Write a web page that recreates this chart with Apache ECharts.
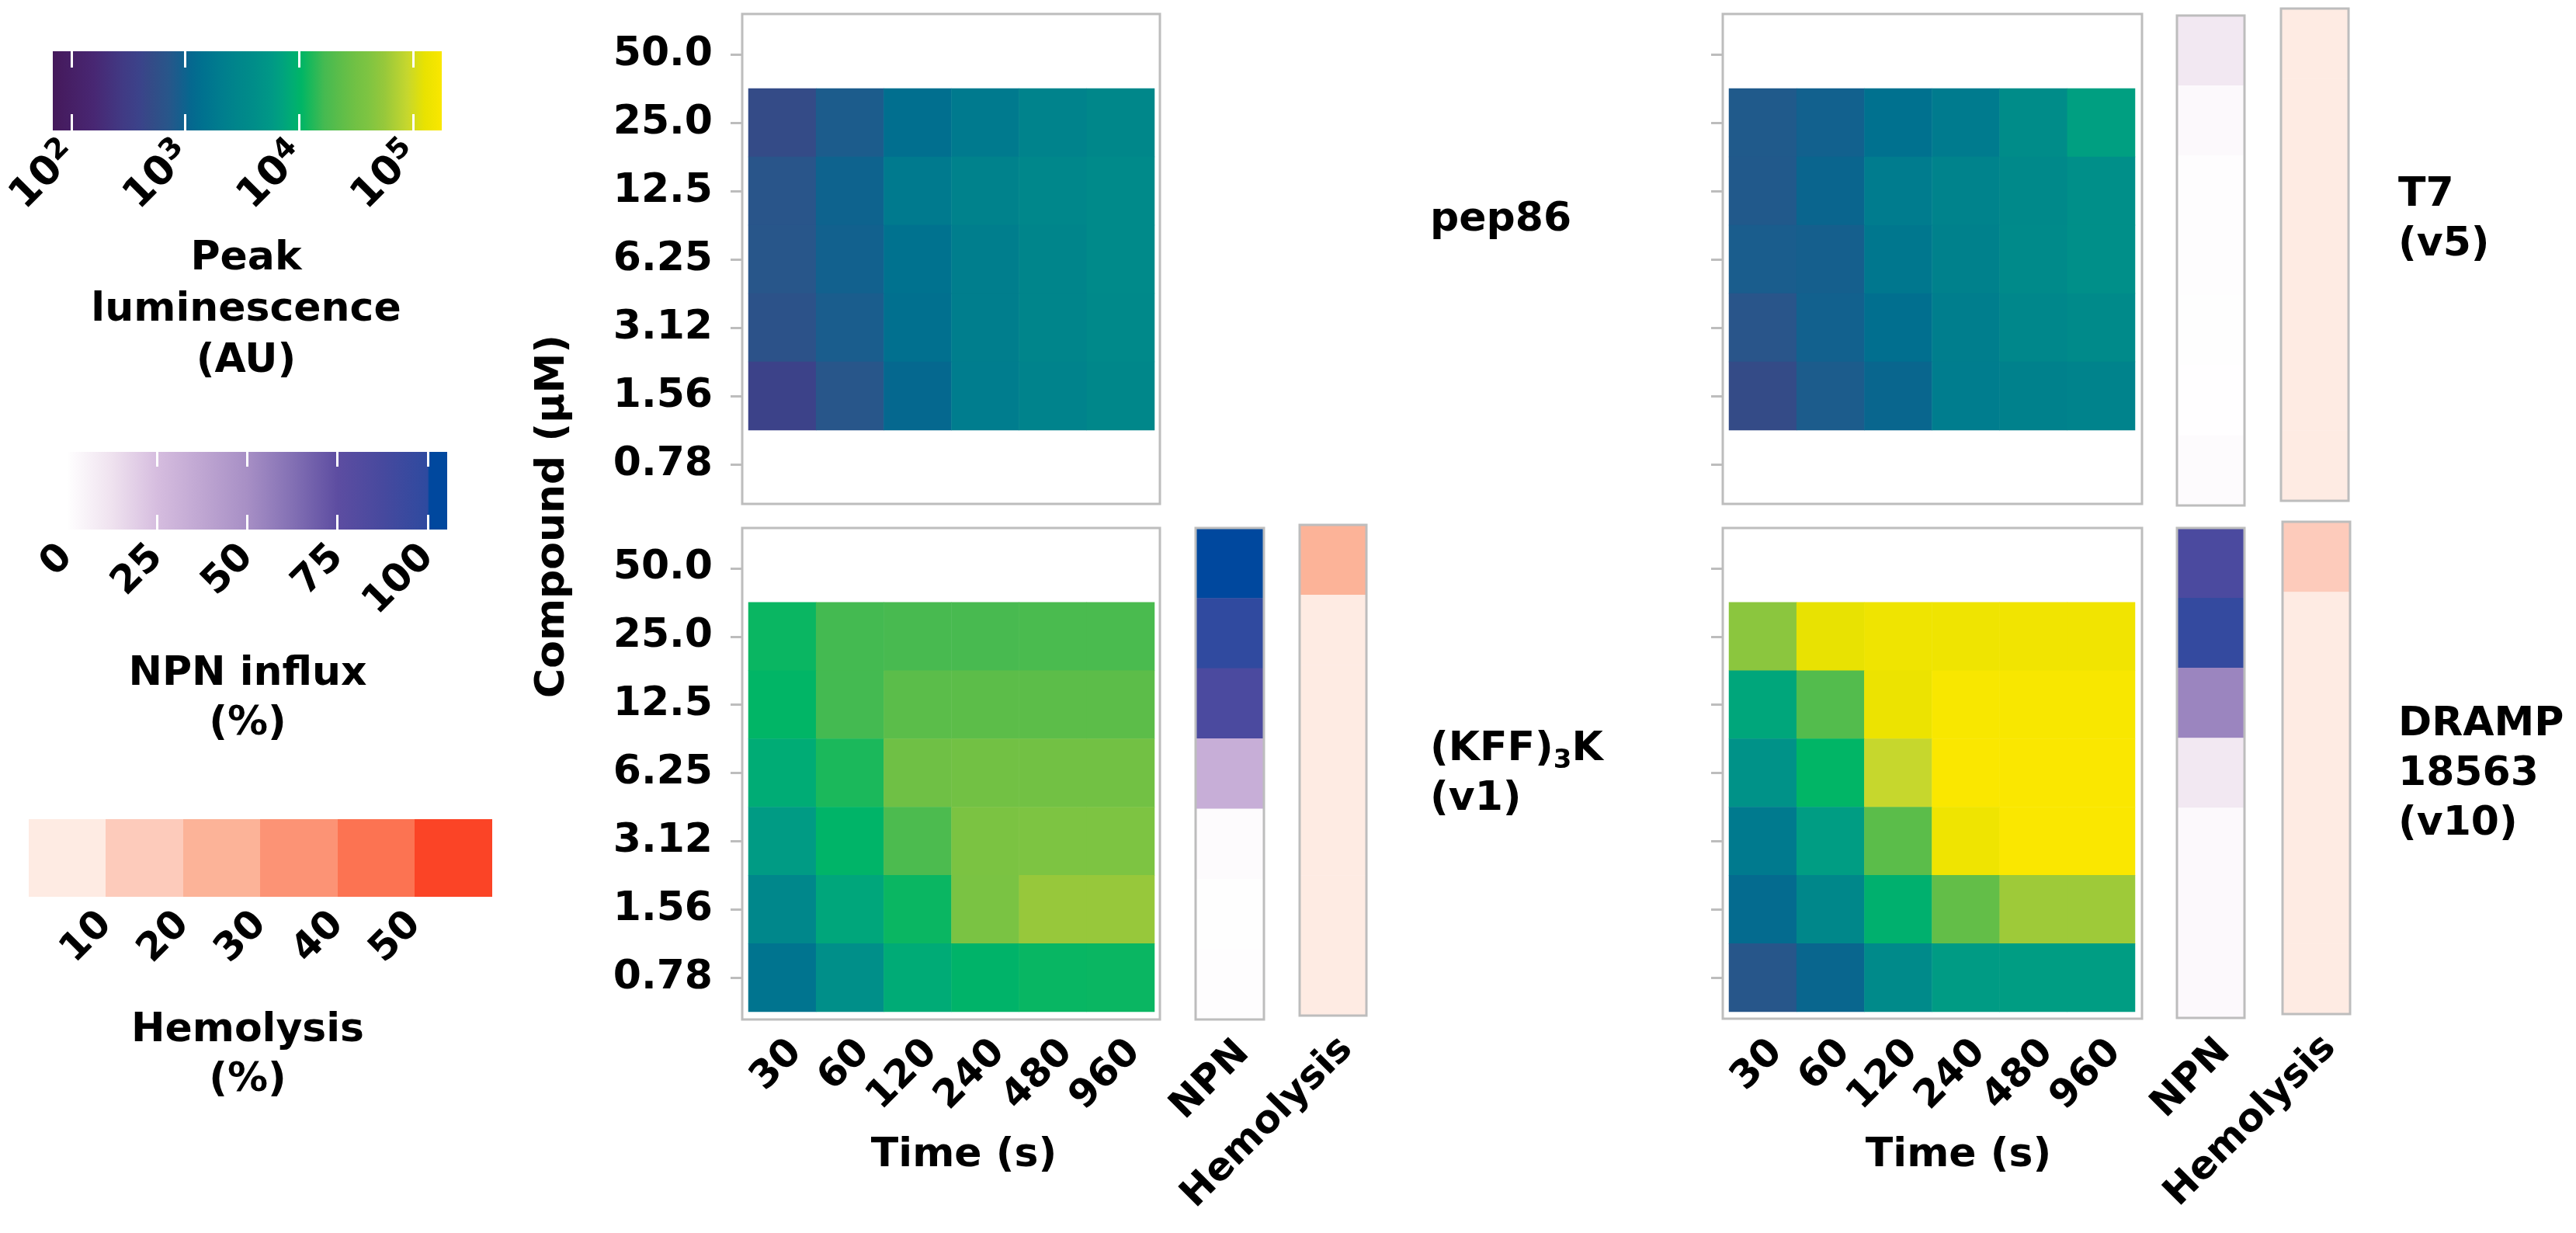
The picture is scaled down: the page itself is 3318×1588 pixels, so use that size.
<!DOCTYPE html>
<html><head><meta charset="utf-8">
<script src="https://cdn.jsdelivr.net/npm/echarts@6/dist/echarts.min.js"></script>
<style>html,body{margin:0;padding:0;background:#fff}#c{width:3318px;height:1588px}</style>
</head><body><div id="c"></div>
<script>
// ---------------- DATA ----------------
const times = ['30', '60', '120', '240', '480', '960'];
const concs = ['50.0', '25.0', '12.5', '6.25', '3.12', '1.56', '0.78'];

// Peak luminescence (AU); rows follow concs, columns follow times (null = not measured)
const lumPep86 = [
  null,
  [500, 830, 1320, 1860, 2630, 3160],
  [690, 1000, 1860, 2510, 3020, 3390],
  [710, 950, 1480, 2140, 2820, 3390],
  [630, 850, 1350, 2140, 2820, 3310],
  [380, 710, 1120, 2090, 2630, 3160],
  null
];
const lumT7 = [
  null,
  [790, 950, 1410, 1910, 3800, 6610],
  [780, 1050, 2000, 2630, 3310, 4170],
  [850, 910, 1700, 2400, 3470, 4170],
  [690, 950, 1320, 2140, 3020, 3550],
  [500, 830, 1070, 2090, 2400, 2630],
  null
];
const lumKFF = [
  null,
  [11200, 16600, 17400, 17400, 17800, 17800],
  [10500, 16600, 22400, 22900, 22900, 22900],
  [8510, 12600, 30200, 31600, 31600, 31600],
  [6030, 10200, 18200, 38000, 39800, 39800],
  [3020, 7590, 11200, 37200, 56200, 56200],
  [1580, 4170, 8320, 10000, 11000, 11200]
];
const lumDRAMP = [
  null,
  [47900, 126000, 145000, 145000, 148000, 148000],
  [7590, 20000, 138000, 174000, 174000, 174000],
  [4570, 10500, 89100, 178000, 178000, 178000],
  [1860, 6310, 22400, 145000, 178000, 178000],
  [1200, 3160, 9330, 25100, 60300, 60300],
  [720, 1070, 3390, 6030, 6310, 6310]
];

// NPN influx (%) per concentration (rows follow concs)
const npnT7 = [10, 2.5, 1.2, 1.2, 0.5, 0.3, 2];
const npnKFF = [103, 99, 85, 33, 2, 0.5, 1];
const npnDRAMP = [85, 97, 54, 10, 2.5, 2.5, 2.5];

// Hemolysis (%) per concentration
const hemoT7 = [3, 2, 2, 1, 1, 1, 1];
const hemoKFF = [25, 5, 3, 2, 1, 1, 1];
const hemoDRAMP = [14, 4, 2, 1, 1, 1, 1];

// Colour-bar tick labels
const lumTickExps = [2, 3, 4, 5];
const npnTicks = [0, 25, 50, 75, 100];
const hemoTicks = [10, 20, 30, 40, 50];

// ---------------- STYLE ----------------
const F = '"DejaVu Sans", Verdana, sans-serif';
const LUM_MIN = 1.836, LUM_MAX = 5.252;
const NPN_MIN = -3, NPN_MAX = 105.4;
const lumStops = [[1.836,'#45195b'],[2.2,'#482773'],[2.45,'#413a84'],[2.6,'#3b438a'],[2.7,'#344b87'],[2.85,'#28568a'],[2.95,'#175e8d'],[3.05,'#05688f'],[3.15,'#00718f'],[3.3,'#007c8e'],[3.45,'#00858b'],[3.6,'#008d89'],[3.75,'#009886'],[3.85,'#00a27f'],[3.95,'#00ae72'],[4.02,'#00b566'],[4.1,'#1bb85b'],[4.22,'#45ba51'],[4.35,'#5bbd4a'],[4.5,'#72c144'],[4.6,'#7dc442'],[4.75,'#97c83b'],[4.95,'#c6d72e'],[5.1,'#e8e201'],[5.252,'#fae700']];
const npnStops = [[-3,'#ffffff'],[0,'#ffffff'],[12.5,'#efe2ef'],[25,'#d6bddf'],[37.5,'#bfa6d2'],[50,'#a78fc5'],[62.5,'#8370b4'],[75,'#5d4da1'],[87.5,'#47499e'],[100,'#2e4a9f'],[100.4,'#00489e'],[105.4,'#00489e']];
const hemoPieces = [
  {min: 0, max: 10, color: '#feebe3'},
  {min: 10, max: 20, color: '#fdcbbb'},
  {min: 20, max: 30, color: '#fcb398'},
  {min: 30, max: 40, color: '#fc9375'},
  {min: 40, max: 50, color: '#fc7352'},
  {min: 50, max: 60, color: '#fb4426'}
];

function hex2rgb(h){h=h.replace('#','');return [parseInt(h.substr(0,2),16),parseInt(h.substr(2,2),16),parseInt(h.substr(4,2),16)];}
function rgb2hex(c){return '#'+c.map(v=>Math.round(v).toString(16).padStart(2,'0')).join('');}
function interp(stops, v){
  if (v <= stops[0][0]) return stops[0][1];
  for (let i = 1; i < stops.length; i++) {
    if (v <= stops[i][0]) {
      const a = stops[i-1], b = stops[i];
      const t = (v - a[0]) / (b[0] - a[0]);
      const ca = hex2rgb(a[1]), cb = hex2rgb(b[1]);
      return rgb2hex(ca.map((x, k) => x + (cb[k] - x) * t));
    }
  }
  return stops[stops.length-1][1];
}
function sampleColors(stops, lo, hi, n){const out=[];for(let i=0;i<n;i++)out.push(interp(stops, lo+(hi-lo)*i/(n-1)));return out;}
function gradient(stops, lo, hi){
  return new echarts.graphic.LinearGradient(0,0,1,0, stops.map(s=>({offset:(s[0]-lo)/(hi-lo), color:s[1]})));
}
function hardGradient(pieces, lo, hi){
  const cs=[];pieces.forEach(p=>{cs.push({offset:(p.min-lo)/(hi-lo),color:p.color});cs.push({offset:(p.max-lo)/(hi-lo),color:p.color});});
  return new echarts.graphic.LinearGradient(0,0,1,0,cs);
}

function lumData(rows){const d=[];rows.forEach((r,yi)=>{if(!r)return;r.forEach((v,xi)=>{if(v!=null)d.push([xi,yi,Math.log10(v)]);});});return d;}
function stripData(vals){return vals.map((v,yi)=>[0,yi,v]);}

const GRAY = '#bdbdbd';
const lab = (size) => ({fontSize:size, fontWeight:'bold', fontFamily:F, color:'#000'});

// ---------------- GRIDS ----------------
const grids = [
  // 0-3 outer boxes
  {left:956, top:18, width:538, height:631},
  {left:2219, top:18, width:540, height:631},
  {left:956, top:680, width:538, height:633},
  {left:2219, top:680, width:540, height:632},
  // 4-7 inner heatmap areas
  {left:964, top:26, width:523, height:616},
  {left:2227, top:26, width:523, height:616},
  {left:964, top:688, width:523, height:615},
  {left:2227, top:688, width:523, height:615},
  // 8-10 NPN strips (TR, BL, BR)
  {left:2804, top:20, width:87, height:631},
  {left:1540, top:680, width:88, height:633},
  {left:2804, top:680, width:87, height:631},
  // 11-13 Hemolysis strips (TR, BL, BR)
  {left:2938, top:11, width:87, height:634},
  {left:1674, top:676, width:86, height:632},
  {left:2940, top:672, width:87, height:634},
  // 14-16 colour bars
  {left:68, top:66, width:501, height:102},
  {left:72, top:582, width:504, height:100},
  {left:37, top:1055, width:597, height:100}
].map((g,i)=>{
  const o = Object.assign({containLabel:false, outerBoundsMode:'none'}, g);
  if (i <= 3 || (i >= 8 && i <= 13)) {
    o.show = true; o.borderColor = GRAY; o.borderWidth = 3; o.backgroundColor = 'rgba(0,0,0,0)';
    if (i >= 8) o.z = 5;
  }
  return o;
});
grids[14].show = true; grids[14].borderWidth = 0; grids[14].backgroundColor = gradient(lumStops, LUM_MIN, LUM_MAX);
grids[15].show = true; grids[15].borderWidth = 0; grids[15].backgroundColor = gradient(npnStops, NPN_MIN, NPN_MAX);
grids[16].show = true; grids[16].borderWidth = 0; grids[16].backgroundColor = hardGradient(hemoPieces, 0, 60);

// ---------------- AXES ----------------
const xAxes = [], yAxes = [];
for (let i = 0; i < 4; i++) {
  xAxes.push({type:'value', gridIndex:i, show:false});
  yAxes.push({type:'value', gridIndex:i, show:false});
}
function timeAxis(g, showLabels, nameShift){
  return {type:'category', gridIndex:g, data:times, offset:9,
    axisLine:{show:false}, axisTick:{show:false}, splitLine:{show:false},
    axisLabel:Object.assign({show:showLabels, interval:0, rotate:45, verticalAlign:'top', margin:18}, lab(50)),
    name: showLabels ? 'Time (s)' : '', nameLocation:'middle', nameGap:150,
    nameTextStyle: Object.assign({padding:[0,0,0,2*(nameShift||0)]}, lab(52))};
}
function concAxis(g, showLabels){
  return {type:'category', gridIndex:g, data:concs, inverse:true, offset:8,
    axisLine:{show:false}, splitLine:{show:false},
    axisTick:{show:true, alignWithLabel:true, length:15, lineStyle:{color:GRAY, width:3}},
    axisLabel:Object.assign({show:showLabels, interval:0, margin:38}, lab(52))};
}
xAxes.push(timeAxis(4,false), timeAxis(5,false), timeAxis(6,true,16), timeAxis(7,true,34));
yAxes.push(concAxis(4,true), concAxis(5,false), concAxis(6,true), concAxis(7,false));
function stripX(g, name, showLabel){
  return {type:'category', gridIndex:g, data:[name], axisLine:{show:false}, axisTick:{show:false}, splitLine:{show:false},
    axisLabel:Object.assign({show:showLabel, interval:0, rotate:45, verticalAlign:'top', margin:18}, lab(50))};
}
function stripY(g){ return {type:'category', gridIndex:g, data:concs, inverse:true, show:false}; }
xAxes.push(stripX(8,'NPN',false), stripX(9,'NPN',true), stripX(10,'NPN',true),
           stripX(11,'Hemolysis',false), stripX(12,'Hemolysis',true), stripX(13,'Hemolysis',true));
for (let g = 8; g <= 13; g++) yAxes.push(stripY(g));

// colour bar axes
const supRich = {
  b:{fontSize:52, fontWeight:'bold', fontFamily:F, color:'#000', lineHeight:60},
  s:{fontSize:37, fontWeight:'bold', fontFamily:F, color:'#000', lineHeight:36, verticalAlign:'top'}
};
xAxes.push({type:'value', gridIndex:14, min:LUM_MIN, max:LUM_MAX, position:'bottom',
  axisLine:{show:false}, splitLine:{show:false},
  axisTick:{show:true, inside:true, length:21, customValues:lumTickExps, lineStyle:{color:'#ffffff', width:3}},
  axisLabel:{show:true, customValues:lumTickExps, rotate:45, margin:24, formatter:v=>'{b|10}{s|'+v+'}', rich:supRich}});
xAxes.push({type:'value', gridIndex:14, min:LUM_MIN, max:LUM_MAX, position:'top',
  axisLine:{show:false}, splitLine:{show:false}, axisLabel:{show:false},
  axisTick:{show:true, inside:true, length:21, customValues:lumTickExps, lineStyle:{color:'#ffffff', width:3}}});
xAxes.push({type:'value', gridIndex:15, min:NPN_MIN, max:NPN_MAX, position:'bottom',
  axisLine:{show:false}, splitLine:{show:false},
  axisTick:{show:true, inside:true, length:19, customValues:npnTicks, lineStyle:{color:'#ffffff', width:3}},
  axisLabel:Object.assign({show:true, customValues:npnTicks, rotate:45, margin:28}, lab(50))});
xAxes.push({type:'value', gridIndex:15, min:NPN_MIN, max:NPN_MAX, position:'top',
  axisLine:{show:false}, splitLine:{show:false}, axisLabel:{show:false},
  axisTick:{show:true, inside:true, length:19, customValues:npnTicks, lineStyle:{color:'#ffffff', width:3}}});
xAxes.push({type:'value', gridIndex:16, min:0, max:60, position:'bottom',
  axisLine:{show:false}, splitLine:{show:false}, axisTick:{show:false},
  axisLabel:Object.assign({show:true, customValues:hemoTicks, rotate:45, margin:28}, lab(50))});
for (let g = 14; g <= 16; g++) yAxes.push({type:'value', gridIndex:g, show:false, min:0, max:1});

// ---------------- SERIES ----------------
function hm(xi, yi, data){
  return {type:'heatmap', coordinateSystem:'cartesian2d', xAxisIndex:xi, yAxisIndex:yi, data,
    itemStyle:{borderWidth:0}, label:{show:false}, emphasis:{disabled:true}, silent:true, progressive:0};
}
const series = [
  hm(4, 4, lumData(lumPep86)),
  hm(5, 5, lumData(lumT7)),
  hm(6, 6, lumData(lumKFF)),
  hm(7, 7, lumData(lumDRAMP)),
  hm(8, 8, stripData(npnT7)),
  hm(9, 9, stripData(npnKFF)),
  hm(10, 10, stripData(npnDRAMP)),
  hm(11, 11, stripData(hemoT7)),
  hm(12, 12, stripData(hemoKFF)),
  hm(13, 13, stripData(hemoDRAMP))
];

// ---------------- TEXT ----------------
function txt(x, y, text, align, lineHeight, extra){
  return {type:'text', x, y, silent:true, style:Object.assign({text, fill:'#000', fontSize:52, fontWeight:'bold', fontFamily:F,
    align, textAlign:align, verticalAlign:'middle', textVerticalAlign:'middle', lineHeight}, extra||{})};
}
const subRich = {sub:{fontSize:34, fontWeight:'bold', fontFamily:F, fill:'#000', lineHeight:30, verticalAlign:'bottom'}};
const graphics = [
  txt(1842, 283, 'pep86', 'left', 64),
  txt(1842, 997, '(KFF){sub|3}K\n(v1)', 'left', 64, {rich:subRich}),
  txt(3089, 283, 'T7\n(v5)', 'left', 64),
  txt(3089, 997, 'DRAMP\n18563\n(v10)', 'left', 64),
  txt(317, 399, 'Peak\nluminescence\n(AU)', 'center', 66),
  txt(319, 900, 'NPN influx\n(%)', 'center', 64),
  txt(319, 1359, 'Hemolysis\n(%)', 'center', 64)
];
const yName = txt(0, 0, 'Compound (µM)', 'center', 60);
yName.x = 712; yName.y = 665; yName.rotation = Math.PI / 2;
graphics.push(yName);

const chart = echarts.init(document.getElementById('c'), null, {renderer:'canvas'});
chart.setOption({
  animation:false,
  backgroundColor:'#ffffff',
  grid: grids,
  xAxis: xAxes,
  yAxis: yAxes,
  visualMap: [
    {type:'continuous', show:false, seriesIndex:[0,1,2,3], dimension:2, min:LUM_MIN, max:LUM_MAX,
     inRange:{color:sampleColors(lumStops, LUM_MIN, LUM_MAX, 240)}},
    {type:'continuous', show:false, seriesIndex:[4,5,6], dimension:2, min:NPN_MIN, max:NPN_MAX,
     inRange:{color:sampleColors(npnStops, NPN_MIN, NPN_MAX, 400)}},
    {type:'piecewise', show:false, seriesIndex:[7,8,9], dimension:2, pieces:hemoPieces}
  ],
  series,
  graphic: graphics
});
</script></body></html>
